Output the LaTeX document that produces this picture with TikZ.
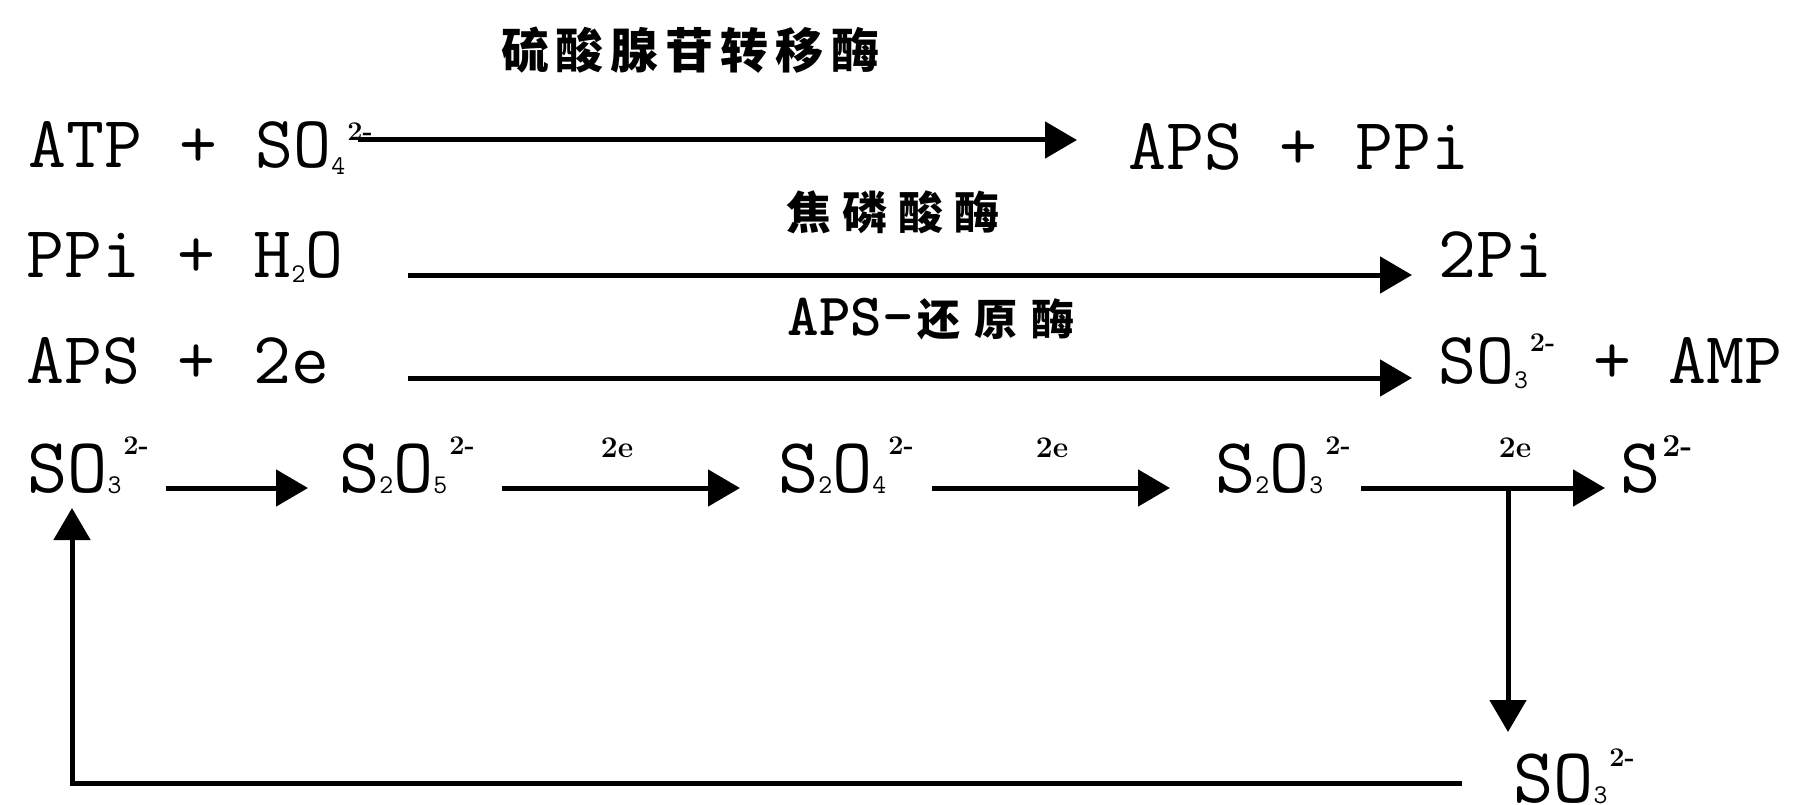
\documentclass[tikz,border=0pt]{standalone}
\usepackage{fontspec}
\usepackage{graphicx}
\usetikzlibrary{arrows.meta}
\newfontfamily\cjk{Noto Sans CJK SC}
\newcommand\sbs[2][5pt]{\raisebox{-#1}{\fontsize{27}{27}\selectfont #2}}
\newcommand\sps[2][32pt]{\raisebox{#1}{\rmfamily\bfseries\fontsize{27}{27}\selectfont\hspace{2pt}#2}}
\begin{document}
\begin{tikzpicture}[x=1pt,y=-1pt,
  txt/.style={anchor=base west, inner sep=0pt, font=\ttfamily\fontsize{73.6}{80}\selectfont},
  txtb/.style={anchor=base west, inner sep=0pt, font=\ttfamily\fontsize{78}{84}\selectfont},
  enz/.style={anchor=center, inner sep=0pt},
  el/.style={anchor=center, inner sep=0pt, font=\rmfamily\bfseries\fontsize{30}{32}\selectfont},
  arr/.style={line width=5pt, -{Triangle[length=32pt,width=36pt]}},
  ln/.style={line width=5pt}]
\useasboundingbox (0,0) rectangle (1793,805);

% enzyme labels
\node[enz] (e1) at (690,50) {\cjk\bfseries\fontsize{48}{52}\selectfont 硫\hspace{7pt}酸\hspace{7pt}腺\hspace{7pt}苷\hspace{7pt}转\hspace{7pt}移\hspace{7pt}酶};
\node[enz] (e2) at (893,212) {\cjk\bfseries\fontsize{45}{50}\selectfont 焦\hspace{11pt}磷\hspace{11pt}酸\hspace{11pt}酶};
\node[enz] (e3) at (931,319) {{\ttfamily\bfseries\fontsize{60}{64}\selectfont APS-}\hspace{4pt}{\cjk\bfseries\fontsize{43}{48}\selectfont 还\hspace{14pt}原\hspace{14pt}酶}};

% row 1
\node[txt] (r1l) at (28,168) {ATP + SO\sbs[7pt]{4}\sps[28pt]{2-}};
\node[txt] (r1r) at (1128,170) {APS + PPi};
\coordinate (a1s) at (358,140);
\coordinate (a1e) at (1077,140);
\draw[arr] (a1s) -- (a1e);

% row 2
\node[txt] (r2l) at (26,277) {PPi + H\sbs{2}O};
\node[txt] (r2r) at (1438,277) {2Pi};
\coordinate (a2s) at (408,275);
\coordinate (a2e) at (1412,275);
\draw[arr] (a2s) -- (a2e);

% row 3
\node[txt] (r3l) at (26,383) {APS + 2e};
\node[txt] (r3r) at (1438,383) {SO\sbs{3}\sps{2-} + AMP};
\coordinate (a3s) at (408,378);
\coordinate (a3e) at (1412,378);
\draw[arr] (a3s) -- (a3e);

% row 4
\node[txtb] (s1) at (27,492) {SO\sbs[1pt]{3}\sps[38pt]{2-}};
\node[txtb] (s2) at (339,492) {S\sbs[1pt]{2}O\sbs[1pt]{5}\sps[38pt]{2-}};
\node[txtb] (s3) at (778,492) {S\sbs[1pt]{2}O\sbs[1pt]{4}\sps[38pt]{2-}};
\node[txtb] (s4) at (1215,492) {S\sbs[1pt]{2}O\sbs[1pt]{3}\sps[38pt]{2-}};
\node[txtb] (s5) at (1620,492) {S\raisebox{36pt}{\rmfamily\bfseries\fontsize{32}{32}\selectfont\hspace{2pt}2-}};
\node[txtb] (s6) at (1513,802) {SO\sbs[1pt]{3}\sps[36pt]{2-}};

\node[el] (l2) at (617,448) {2e};
\node[el] (l3) at (1052,448) {2e};
\node[el] (l4) at (1515,448) {2e};

\coordinate (b1s) at (166,488);
\coordinate (b1e) at (308,488);
\coordinate (b2s) at (502,488);
\coordinate (b2e) at (740,488);
\coordinate (b3s) at (932,488);
\coordinate (b3e) at (1170,488);
\coordinate (b4s) at (1361,488);
\coordinate (b4e) at (1605,488);
\coordinate (br) at (1508,488);
\coordinate (dn) at (1508,732);
\coordinate (rs) at (1462,783);
\coordinate (rc) at (72,783);
\coordinate (up) at (72,508);

\draw[arr] (b1s) -- (b1e);
\draw[arr] (b2s) -- (b2e);
\draw[arr] (b3s) -- (b3e);
\draw[arr] (b4s) -- (b4e);
\draw[arr] (br) -- (dn);
\draw[arr] (rs) -- (rc) -- (up);
\end{tikzpicture}
\end{document}
